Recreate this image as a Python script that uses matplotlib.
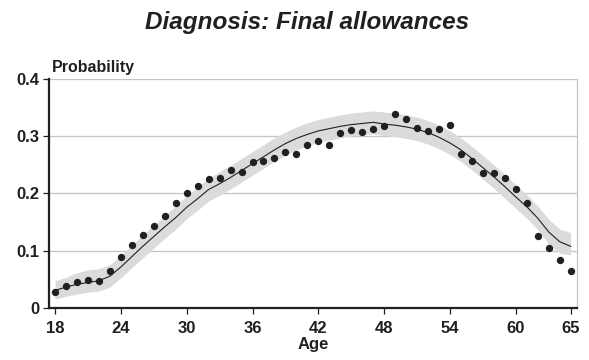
import matplotlib.pyplot as plt

plt.rcParams['font.family'] = ['Liberation Sans', 'DejaVu Sans']

ages = list(range(18, 66))

# observed share per age
observed = [0.029, 0.039, 0.046, 0.050, 0.048, 0.065, 0.089, 0.111, 0.128, 0.143,
            0.160, 0.184, 0.200, 0.213, 0.225, 0.227, 0.241, 0.237, 0.255, 0.256,
            0.261, 0.272, 0.268, 0.284, 0.292, 0.285, 0.305, 0.311, 0.307, 0.312,
            0.318, 0.338, 0.330, 0.314, 0.309, 0.313, 0.319, 0.269, 0.256, 0.236,
            0.236, 0.227, 0.208, 0.184, 0.126, 0.105, 0.085, 0.065]

# model prediction and its interval
predicted = [0.031, 0.037, 0.042, 0.045, 0.048, 0.056, 0.072, 0.090, 0.108, 0.125,
             0.142, 0.158, 0.176, 0.191, 0.207, 0.217, 0.228, 0.240, 0.252, 0.264,
             0.276, 0.287, 0.296, 0.303, 0.309, 0.313, 0.317, 0.320, 0.322, 0.324,
             0.321, 0.319, 0.316, 0.312, 0.306, 0.298, 0.288, 0.276, 0.261, 0.245,
             0.229, 0.212, 0.194, 0.177, 0.157, 0.133, 0.116, 0.108]
upper = [0.048, 0.054, 0.062, 0.067, 0.069, 0.076, 0.092, 0.110, 0.128, 0.145,
         0.162, 0.178, 0.196, 0.211, 0.227, 0.238, 0.249, 0.261, 0.273, 0.285,
         0.297, 0.307, 0.316, 0.323, 0.329, 0.333, 0.337, 0.340, 0.342, 0.344,
         0.342, 0.340, 0.337, 0.333, 0.327, 0.319, 0.309, 0.297, 0.282, 0.266,
         0.250, 0.233, 0.215, 0.198, 0.178, 0.155, 0.138, 0.132]
lower = [0.016, 0.021, 0.025, 0.028, 0.030, 0.037, 0.053, 0.071, 0.088, 0.105,
         0.122, 0.138, 0.156, 0.171, 0.187, 0.197, 0.208, 0.220, 0.232, 0.244,
         0.256, 0.267, 0.276, 0.283, 0.289, 0.293, 0.297, 0.300, 0.302, 0.304,
         0.301, 0.299, 0.296, 0.292, 0.286, 0.278, 0.268, 0.256, 0.241, 0.225,
         0.209, 0.192, 0.174, 0.157, 0.137, 0.112, 0.096, 0.093]

xticks = [18, 24, 30, 36, 42, 48, 54, 60, 65]
yticks = [0, 0.1, 0.2, 0.3, 0.4]
ytick_labels = ['0', '0.1', '0.2', '0.3', '0.4']

dark = '#231f20'

fig = plt.figure(figsize=(5.89, 3.6), dpi=100)
ax = fig.add_axes([0.0832, 0.1436, 0.8959, 0.6378])

ax.fill_between(ages, lower, upper, color='#dadbdc', linewidth=0, zorder=1)
ax.plot(ages, predicted, color=dark, linewidth=0.8, zorder=2)
ax.scatter(ages, observed, s=28, color=dark, linewidths=0, zorder=3)

ax.set_xlim(17.45, 65.55)
ax.set_ylim(0, 0.4)
ax.set_xticks(xticks)
ax.set_xticklabels([str(t) for t in xticks])
ax.set_yticks(yticks)
ax.set_yticklabels(ytick_labels)
ax.yaxis.grid(True, color='#c4c4c4', linewidth=0.9, zorder=0)
ax.set_axisbelow(True)

for side in ['left', 'bottom']:
    ax.spines[side].set_color(dark)
    ax.spines[side].set_linewidth(1.6)
ax.spines['top'].set_visible(False)
ax.spines['right'].set_color('#c4c4c4')
ax.spines['right'].set_linewidth(0.9)

ax.tick_params(axis='both', colors=dark, length=4, width=0.9, labelsize=12)
ax.tick_params(axis='x', pad=5)
ax.tick_params(axis='y', pad=3)
for lbl in ax.get_xticklabels() + ax.get_yticklabels():
    lbl.set_fontweight('bold')

ax.set_xlabel('Age', fontsize=12, fontweight='bold', color=dark, labelpad=1)
ax.text(0.005, 1.015, 'Probability', transform=ax.transAxes, fontsize=11.5,
        fontweight='bold', color=dark, ha='left', va='bottom')

fig.text(0.521, 0.9375, 'Diagnosis: Final allowances', fontsize=17.5,
         fontweight='bold', style='italic', color=dark, ha='center', va='center')

fig.savefig('out.png', dpi=100)
